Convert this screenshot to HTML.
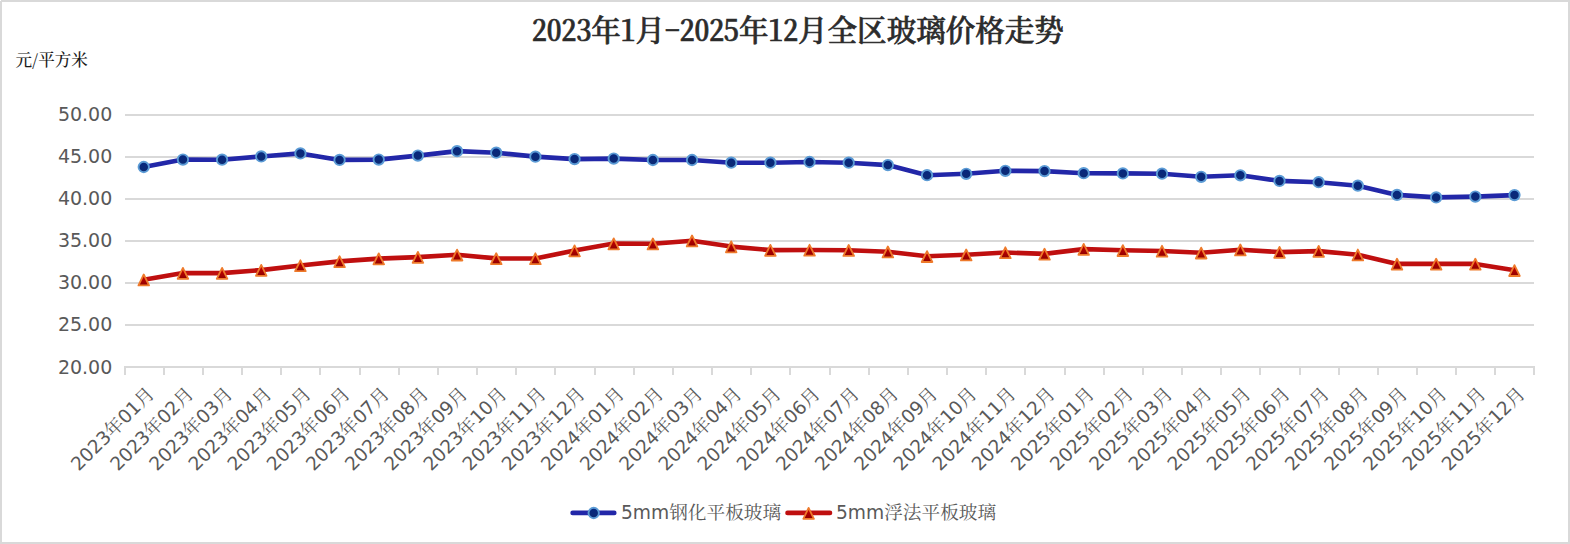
<!DOCTYPE html>
<html lang="zh-CN"><head><meta charset="utf-8"><title>2023年1月-2025年12月全区玻璃价格走势</title>
<style>
html,body{margin:0;padding:0;background:#fff;}
body{width:1570px;height:544px;overflow:hidden;position:relative;}
#chart{position:absolute;left:0;top:0;width:1570px;height:544px;box-sizing:border-box;border:2px solid #d9d9d9;background:#fff;}
svg{position:absolute;left:0;top:0;}
.num{font-family:"DejaVu Sans","Liberation Sans",sans-serif;fill:#595959;font-size:19px;}
.ttl{font-family:"Noto Serif CJK SC","Liberation Serif",serif;font-size:29.55px;font-weight:500;fill:#2b2b2b;stroke:#2b2b2b;stroke-width:0.7px;font-feature-settings:"hwid";}
.unit{font-family:"Noto Serif CJK SC","Liberation Serif",serif;font-size:16.6px;font-weight:500;fill:#1a1a1a;}
.xl{font-family:"DejaVu Sans","Noto Serif CJK SC","Liberation Sans",sans-serif;fill:#595959;font-size:18.67px;}
</style></head><body>
<div id="chart"></div>
<svg width="1570" height="544" viewBox="0 0 1570 544">
<defs>
<linearGradient id="gb" x1="0" y1="0" x2="0" y2="1"><stop offset="0" stop-color="#06277f"/><stop offset="1" stop-color="#0d2a72"/></linearGradient>
<linearGradient id="gr" x1="0" y1="0" x2="0" y2="1"><stop offset="0" stop-color="#d40000"/><stop offset="1" stop-color="#8e0000"/></linearGradient>
</defs>
<text x="798" y="41" text-anchor="middle" class="ttl">2023年1月-2025年12月全区玻璃价格走势</text>
<text x="15.5" y="66.2" class="unit">元/平方米</text>
<rect x="125" y="114" width="1409" height="2" fill="#d9d9d9"/>
<text x="112.3" y="121.2" text-anchor="end" class="num">50.00</text>
<rect x="125" y="156" width="1409" height="2" fill="#d9d9d9"/>
<text x="112.3" y="163.2" text-anchor="end" class="num">45.00</text>
<rect x="125" y="198" width="1409" height="2" fill="#d9d9d9"/>
<text x="112.3" y="205.2" text-anchor="end" class="num">40.00</text>
<rect x="125" y="240" width="1409" height="2" fill="#d9d9d9"/>
<text x="112.3" y="247.2" text-anchor="end" class="num">35.00</text>
<rect x="125" y="282" width="1409" height="2" fill="#d9d9d9"/>
<text x="112.3" y="289.2" text-anchor="end" class="num">30.00</text>
<rect x="125" y="324" width="1409" height="2" fill="#d9d9d9"/>
<text x="112.3" y="331.2" text-anchor="end" class="num">25.00</text>
<rect x="124" y="366" width="1411" height="2" fill="#d9d9d9"/>
<text x="112.3" y="373.9" text-anchor="end" class="num">20.00</text>
<rect x="124" y="366" width="2" height="9" fill="#d9d9d9"/>
<rect x="163" y="366" width="2" height="9" fill="#d9d9d9"/>
<rect x="202" y="366" width="2" height="9" fill="#d9d9d9"/>
<rect x="241" y="366" width="2" height="9" fill="#d9d9d9"/>
<rect x="280" y="366" width="2" height="9" fill="#d9d9d9"/>
<rect x="319" y="366" width="2" height="9" fill="#d9d9d9"/>
<rect x="359" y="366" width="2" height="9" fill="#d9d9d9"/>
<rect x="398" y="366" width="2" height="9" fill="#d9d9d9"/>
<rect x="437" y="366" width="2" height="9" fill="#d9d9d9"/>
<rect x="476" y="366" width="2" height="9" fill="#d9d9d9"/>
<rect x="515" y="366" width="2" height="9" fill="#d9d9d9"/>
<rect x="554" y="366" width="2" height="9" fill="#d9d9d9"/>
<rect x="594" y="366" width="2" height="9" fill="#d9d9d9"/>
<rect x="633" y="366" width="2" height="9" fill="#d9d9d9"/>
<rect x="672" y="366" width="2" height="9" fill="#d9d9d9"/>
<rect x="711" y="366" width="2" height="9" fill="#d9d9d9"/>
<rect x="750" y="366" width="2" height="9" fill="#d9d9d9"/>
<rect x="789" y="366" width="2" height="9" fill="#d9d9d9"/>
<rect x="829" y="366" width="2" height="9" fill="#d9d9d9"/>
<rect x="868" y="366" width="2" height="9" fill="#d9d9d9"/>
<rect x="907" y="366" width="2" height="9" fill="#d9d9d9"/>
<rect x="946" y="366" width="2" height="9" fill="#d9d9d9"/>
<rect x="985" y="366" width="2" height="9" fill="#d9d9d9"/>
<rect x="1024" y="366" width="2" height="9" fill="#d9d9d9"/>
<rect x="1064" y="366" width="2" height="9" fill="#d9d9d9"/>
<rect x="1103" y="366" width="2" height="9" fill="#d9d9d9"/>
<rect x="1142" y="366" width="2" height="9" fill="#d9d9d9"/>
<rect x="1181" y="366" width="2" height="9" fill="#d9d9d9"/>
<rect x="1220" y="366" width="2" height="9" fill="#d9d9d9"/>
<rect x="1259" y="366" width="2" height="9" fill="#d9d9d9"/>
<rect x="1299" y="366" width="2" height="9" fill="#d9d9d9"/>
<rect x="1338" y="366" width="2" height="9" fill="#d9d9d9"/>
<rect x="1377" y="366" width="2" height="9" fill="#d9d9d9"/>
<rect x="1416" y="366" width="2" height="9" fill="#d9d9d9"/>
<rect x="1455" y="366" width="2" height="9" fill="#d9d9d9"/>
<rect x="1494" y="366" width="2" height="9" fill="#d9d9d9"/>
<rect x="1533" y="366" width="2" height="9" fill="#d9d9d9"/>
<text class="xl" text-anchor="end" transform="translate(155.45,395.1) rotate(-45)">2023年01月</text>
<text class="xl" text-anchor="end" transform="translate(194.62,395.1) rotate(-45)">2023年02月</text>
<text class="xl" text-anchor="end" transform="translate(233.78,395.1) rotate(-45)">2023年03月</text>
<text class="xl" text-anchor="end" transform="translate(272.94,395.1) rotate(-45)">2023年04月</text>
<text class="xl" text-anchor="end" transform="translate(312.11,395.1) rotate(-45)">2023年05月</text>
<text class="xl" text-anchor="end" transform="translate(351.27,395.1) rotate(-45)">2023年06月</text>
<text class="xl" text-anchor="end" transform="translate(390.44,395.1) rotate(-45)">2023年07月</text>
<text class="xl" text-anchor="end" transform="translate(429.60,395.1) rotate(-45)">2023年08月</text>
<text class="xl" text-anchor="end" transform="translate(468.76,395.1) rotate(-45)">2023年09月</text>
<text class="xl" text-anchor="end" transform="translate(507.93,395.1) rotate(-45)">2023年10月</text>
<text class="xl" text-anchor="end" transform="translate(547.09,395.1) rotate(-45)">2023年11月</text>
<text class="xl" text-anchor="end" transform="translate(586.26,395.1) rotate(-45)">2023年12月</text>
<text class="xl" text-anchor="end" transform="translate(625.42,395.1) rotate(-45)">2024年01月</text>
<text class="xl" text-anchor="end" transform="translate(664.58,395.1) rotate(-45)">2024年02月</text>
<text class="xl" text-anchor="end" transform="translate(703.75,395.1) rotate(-45)">2024年03月</text>
<text class="xl" text-anchor="end" transform="translate(742.91,395.1) rotate(-45)">2024年04月</text>
<text class="xl" text-anchor="end" transform="translate(782.08,395.1) rotate(-45)">2024年05月</text>
<text class="xl" text-anchor="end" transform="translate(821.24,395.1) rotate(-45)">2024年06月</text>
<text class="xl" text-anchor="end" transform="translate(860.40,395.1) rotate(-45)">2024年07月</text>
<text class="xl" text-anchor="end" transform="translate(899.57,395.1) rotate(-45)">2024年08月</text>
<text class="xl" text-anchor="end" transform="translate(938.73,395.1) rotate(-45)">2024年09月</text>
<text class="xl" text-anchor="end" transform="translate(977.90,395.1) rotate(-45)">2024年10月</text>
<text class="xl" text-anchor="end" transform="translate(1017.06,395.1) rotate(-45)">2024年11月</text>
<text class="xl" text-anchor="end" transform="translate(1056.22,395.1) rotate(-45)">2024年12月</text>
<text class="xl" text-anchor="end" transform="translate(1095.39,395.1) rotate(-45)">2025年01月</text>
<text class="xl" text-anchor="end" transform="translate(1134.55,395.1) rotate(-45)">2025年02月</text>
<text class="xl" text-anchor="end" transform="translate(1173.72,395.1) rotate(-45)">2025年03月</text>
<text class="xl" text-anchor="end" transform="translate(1212.88,395.1) rotate(-45)">2025年04月</text>
<text class="xl" text-anchor="end" transform="translate(1252.04,395.1) rotate(-45)">2025年05月</text>
<text class="xl" text-anchor="end" transform="translate(1291.21,395.1) rotate(-45)">2025年06月</text>
<text class="xl" text-anchor="end" transform="translate(1330.37,395.1) rotate(-45)">2025年07月</text>
<text class="xl" text-anchor="end" transform="translate(1369.54,395.1) rotate(-45)">2025年08月</text>
<text class="xl" text-anchor="end" transform="translate(1408.70,395.1) rotate(-45)">2025年09月</text>
<text class="xl" text-anchor="end" transform="translate(1447.86,395.1) rotate(-45)">2025年10月</text>
<text class="xl" text-anchor="end" transform="translate(1487.03,395.1) rotate(-45)">2025年11月</text>
<text class="xl" text-anchor="end" transform="translate(1526.19,395.1) rotate(-45)">2025年12月</text>
<polyline points="143.75,167.00 182.92,159.60 222.08,159.70 261.24,156.45 300.41,153.40 339.57,159.90 378.74,159.60 417.90,155.60 457.06,151.15 496.23,152.70 535.39,156.65 574.56,159.10 613.72,158.60 652.88,160.00 692.05,160.00 731.21,162.70 770.38,162.70 809.54,162.00 848.70,162.70 887.87,165.10 927.03,175.20 966.20,173.80 1005.36,170.80 1044.52,171.10 1083.69,173.20 1122.85,173.40 1162.02,173.70 1201.18,176.80 1240.34,175.30 1279.51,180.90 1318.67,182.20 1357.84,185.70 1397.00,194.90 1436.16,197.40 1475.33,196.60 1514.49,195.10" fill="none" stroke="#2227a8" stroke-width="4.6" stroke-linejoin="round" stroke-linecap="round"/>
<circle cx="143.75" cy="167.00" r="5.2" fill="url(#gb)" stroke="#5b9bd5" stroke-width="1.9"/>
<circle cx="182.92" cy="159.60" r="5.2" fill="url(#gb)" stroke="#5b9bd5" stroke-width="1.9"/>
<circle cx="222.08" cy="159.70" r="5.2" fill="url(#gb)" stroke="#5b9bd5" stroke-width="1.9"/>
<circle cx="261.24" cy="156.45" r="5.2" fill="url(#gb)" stroke="#5b9bd5" stroke-width="1.9"/>
<circle cx="300.41" cy="153.40" r="5.2" fill="url(#gb)" stroke="#5b9bd5" stroke-width="1.9"/>
<circle cx="339.57" cy="159.90" r="5.2" fill="url(#gb)" stroke="#5b9bd5" stroke-width="1.9"/>
<circle cx="378.74" cy="159.60" r="5.2" fill="url(#gb)" stroke="#5b9bd5" stroke-width="1.9"/>
<circle cx="417.90" cy="155.60" r="5.2" fill="url(#gb)" stroke="#5b9bd5" stroke-width="1.9"/>
<circle cx="457.06" cy="151.15" r="5.2" fill="url(#gb)" stroke="#5b9bd5" stroke-width="1.9"/>
<circle cx="496.23" cy="152.70" r="5.2" fill="url(#gb)" stroke="#5b9bd5" stroke-width="1.9"/>
<circle cx="535.39" cy="156.65" r="5.2" fill="url(#gb)" stroke="#5b9bd5" stroke-width="1.9"/>
<circle cx="574.56" cy="159.10" r="5.2" fill="url(#gb)" stroke="#5b9bd5" stroke-width="1.9"/>
<circle cx="613.72" cy="158.60" r="5.2" fill="url(#gb)" stroke="#5b9bd5" stroke-width="1.9"/>
<circle cx="652.88" cy="160.00" r="5.2" fill="url(#gb)" stroke="#5b9bd5" stroke-width="1.9"/>
<circle cx="692.05" cy="160.00" r="5.2" fill="url(#gb)" stroke="#5b9bd5" stroke-width="1.9"/>
<circle cx="731.21" cy="162.70" r="5.2" fill="url(#gb)" stroke="#5b9bd5" stroke-width="1.9"/>
<circle cx="770.38" cy="162.70" r="5.2" fill="url(#gb)" stroke="#5b9bd5" stroke-width="1.9"/>
<circle cx="809.54" cy="162.00" r="5.2" fill="url(#gb)" stroke="#5b9bd5" stroke-width="1.9"/>
<circle cx="848.70" cy="162.70" r="5.2" fill="url(#gb)" stroke="#5b9bd5" stroke-width="1.9"/>
<circle cx="887.87" cy="165.10" r="5.2" fill="url(#gb)" stroke="#5b9bd5" stroke-width="1.9"/>
<circle cx="927.03" cy="175.20" r="5.2" fill="url(#gb)" stroke="#5b9bd5" stroke-width="1.9"/>
<circle cx="966.20" cy="173.80" r="5.2" fill="url(#gb)" stroke="#5b9bd5" stroke-width="1.9"/>
<circle cx="1005.36" cy="170.80" r="5.2" fill="url(#gb)" stroke="#5b9bd5" stroke-width="1.9"/>
<circle cx="1044.52" cy="171.10" r="5.2" fill="url(#gb)" stroke="#5b9bd5" stroke-width="1.9"/>
<circle cx="1083.69" cy="173.20" r="5.2" fill="url(#gb)" stroke="#5b9bd5" stroke-width="1.9"/>
<circle cx="1122.85" cy="173.40" r="5.2" fill="url(#gb)" stroke="#5b9bd5" stroke-width="1.9"/>
<circle cx="1162.02" cy="173.70" r="5.2" fill="url(#gb)" stroke="#5b9bd5" stroke-width="1.9"/>
<circle cx="1201.18" cy="176.80" r="5.2" fill="url(#gb)" stroke="#5b9bd5" stroke-width="1.9"/>
<circle cx="1240.34" cy="175.30" r="5.2" fill="url(#gb)" stroke="#5b9bd5" stroke-width="1.9"/>
<circle cx="1279.51" cy="180.90" r="5.2" fill="url(#gb)" stroke="#5b9bd5" stroke-width="1.9"/>
<circle cx="1318.67" cy="182.20" r="5.2" fill="url(#gb)" stroke="#5b9bd5" stroke-width="1.9"/>
<circle cx="1357.84" cy="185.70" r="5.2" fill="url(#gb)" stroke="#5b9bd5" stroke-width="1.9"/>
<circle cx="1397.00" cy="194.90" r="5.2" fill="url(#gb)" stroke="#5b9bd5" stroke-width="1.9"/>
<circle cx="1436.16" cy="197.40" r="5.2" fill="url(#gb)" stroke="#5b9bd5" stroke-width="1.9"/>
<circle cx="1475.33" cy="196.60" r="5.2" fill="url(#gb)" stroke="#5b9bd5" stroke-width="1.9"/>
<circle cx="1514.49" cy="195.10" r="5.2" fill="url(#gb)" stroke="#5b9bd5" stroke-width="1.9"/>
<polyline points="143.75,279.70 182.92,273.10 222.08,273.10 261.24,270.10 300.41,265.50 339.57,261.40 378.74,258.60 417.90,257.10 457.06,254.80 496.23,258.40 535.39,258.50 574.56,250.60 613.72,243.60 652.88,243.70 692.05,240.70 731.21,246.60 770.38,250.10 809.54,250.00 848.70,250.20 887.87,251.70 927.03,256.30 966.20,254.70 1005.36,252.50 1044.52,253.90 1083.69,249.10 1122.85,250.30 1162.02,251.00 1201.18,252.80 1240.34,249.70 1279.51,252.10 1318.67,251.10 1357.84,254.75 1397.00,263.90 1436.16,263.90 1475.33,263.90 1514.49,270.30" fill="none" stroke="#bf0f0f" stroke-width="4.6" stroke-linejoin="round" stroke-linecap="round"/>
<path d="M143.75,274.50 L149.05,285.40 L138.45,285.40 Z" fill="url(#gr)" stroke="#ee7a2b" stroke-width="1.8" stroke-linejoin="round"/>
<path d="M182.92,267.90 L188.22,278.80 L177.62,278.80 Z" fill="url(#gr)" stroke="#ee7a2b" stroke-width="1.8" stroke-linejoin="round"/>
<path d="M222.08,267.90 L227.38,278.80 L216.78,278.80 Z" fill="url(#gr)" stroke="#ee7a2b" stroke-width="1.8" stroke-linejoin="round"/>
<path d="M261.24,264.90 L266.54,275.80 L255.94,275.80 Z" fill="url(#gr)" stroke="#ee7a2b" stroke-width="1.8" stroke-linejoin="round"/>
<path d="M300.41,260.30 L305.71,271.20 L295.11,271.20 Z" fill="url(#gr)" stroke="#ee7a2b" stroke-width="1.8" stroke-linejoin="round"/>
<path d="M339.57,256.20 L344.87,267.10 L334.27,267.10 Z" fill="url(#gr)" stroke="#ee7a2b" stroke-width="1.8" stroke-linejoin="round"/>
<path d="M378.74,253.40 L384.04,264.30 L373.44,264.30 Z" fill="url(#gr)" stroke="#ee7a2b" stroke-width="1.8" stroke-linejoin="round"/>
<path d="M417.90,251.90 L423.20,262.80 L412.60,262.80 Z" fill="url(#gr)" stroke="#ee7a2b" stroke-width="1.8" stroke-linejoin="round"/>
<path d="M457.06,249.60 L462.36,260.50 L451.76,260.50 Z" fill="url(#gr)" stroke="#ee7a2b" stroke-width="1.8" stroke-linejoin="round"/>
<path d="M496.23,253.20 L501.53,264.10 L490.93,264.10 Z" fill="url(#gr)" stroke="#ee7a2b" stroke-width="1.8" stroke-linejoin="round"/>
<path d="M535.39,253.30 L540.69,264.20 L530.09,264.20 Z" fill="url(#gr)" stroke="#ee7a2b" stroke-width="1.8" stroke-linejoin="round"/>
<path d="M574.56,245.40 L579.86,256.30 L569.26,256.30 Z" fill="url(#gr)" stroke="#ee7a2b" stroke-width="1.8" stroke-linejoin="round"/>
<path d="M613.72,238.40 L619.02,249.30 L608.42,249.30 Z" fill="url(#gr)" stroke="#ee7a2b" stroke-width="1.8" stroke-linejoin="round"/>
<path d="M652.88,238.50 L658.18,249.40 L647.58,249.40 Z" fill="url(#gr)" stroke="#ee7a2b" stroke-width="1.8" stroke-linejoin="round"/>
<path d="M692.05,235.50 L697.35,246.40 L686.75,246.40 Z" fill="url(#gr)" stroke="#ee7a2b" stroke-width="1.8" stroke-linejoin="round"/>
<path d="M731.21,241.40 L736.51,252.30 L725.91,252.30 Z" fill="url(#gr)" stroke="#ee7a2b" stroke-width="1.8" stroke-linejoin="round"/>
<path d="M770.38,244.90 L775.68,255.80 L765.08,255.80 Z" fill="url(#gr)" stroke="#ee7a2b" stroke-width="1.8" stroke-linejoin="round"/>
<path d="M809.54,244.80 L814.84,255.70 L804.24,255.70 Z" fill="url(#gr)" stroke="#ee7a2b" stroke-width="1.8" stroke-linejoin="round"/>
<path d="M848.70,245.00 L854.00,255.90 L843.40,255.90 Z" fill="url(#gr)" stroke="#ee7a2b" stroke-width="1.8" stroke-linejoin="round"/>
<path d="M887.87,246.50 L893.17,257.40 L882.57,257.40 Z" fill="url(#gr)" stroke="#ee7a2b" stroke-width="1.8" stroke-linejoin="round"/>
<path d="M927.03,251.10 L932.33,262.00 L921.73,262.00 Z" fill="url(#gr)" stroke="#ee7a2b" stroke-width="1.8" stroke-linejoin="round"/>
<path d="M966.20,249.50 L971.50,260.40 L960.90,260.40 Z" fill="url(#gr)" stroke="#ee7a2b" stroke-width="1.8" stroke-linejoin="round"/>
<path d="M1005.36,247.30 L1010.66,258.20 L1000.06,258.20 Z" fill="url(#gr)" stroke="#ee7a2b" stroke-width="1.8" stroke-linejoin="round"/>
<path d="M1044.52,248.70 L1049.82,259.60 L1039.22,259.60 Z" fill="url(#gr)" stroke="#ee7a2b" stroke-width="1.8" stroke-linejoin="round"/>
<path d="M1083.69,243.90 L1088.99,254.80 L1078.39,254.80 Z" fill="url(#gr)" stroke="#ee7a2b" stroke-width="1.8" stroke-linejoin="round"/>
<path d="M1122.85,245.10 L1128.15,256.00 L1117.55,256.00 Z" fill="url(#gr)" stroke="#ee7a2b" stroke-width="1.8" stroke-linejoin="round"/>
<path d="M1162.02,245.80 L1167.32,256.70 L1156.72,256.70 Z" fill="url(#gr)" stroke="#ee7a2b" stroke-width="1.8" stroke-linejoin="round"/>
<path d="M1201.18,247.60 L1206.48,258.50 L1195.88,258.50 Z" fill="url(#gr)" stroke="#ee7a2b" stroke-width="1.8" stroke-linejoin="round"/>
<path d="M1240.34,244.50 L1245.64,255.40 L1235.04,255.40 Z" fill="url(#gr)" stroke="#ee7a2b" stroke-width="1.8" stroke-linejoin="round"/>
<path d="M1279.51,246.90 L1284.81,257.80 L1274.21,257.80 Z" fill="url(#gr)" stroke="#ee7a2b" stroke-width="1.8" stroke-linejoin="round"/>
<path d="M1318.67,245.90 L1323.97,256.80 L1313.37,256.80 Z" fill="url(#gr)" stroke="#ee7a2b" stroke-width="1.8" stroke-linejoin="round"/>
<path d="M1357.84,249.55 L1363.14,260.45 L1352.54,260.45 Z" fill="url(#gr)" stroke="#ee7a2b" stroke-width="1.8" stroke-linejoin="round"/>
<path d="M1397.00,258.70 L1402.30,269.60 L1391.70,269.60 Z" fill="url(#gr)" stroke="#ee7a2b" stroke-width="1.8" stroke-linejoin="round"/>
<path d="M1436.16,258.70 L1441.46,269.60 L1430.86,269.60 Z" fill="url(#gr)" stroke="#ee7a2b" stroke-width="1.8" stroke-linejoin="round"/>
<path d="M1475.33,258.70 L1480.63,269.60 L1470.03,269.60 Z" fill="url(#gr)" stroke="#ee7a2b" stroke-width="1.8" stroke-linejoin="round"/>
<path d="M1514.49,265.10 L1519.79,276.00 L1509.19,276.00 Z" fill="url(#gr)" stroke="#ee7a2b" stroke-width="1.8" stroke-linejoin="round"/>
<line x1="572.6" x2="614.3" y1="512.9" y2="512.9" stroke="#2227a8" stroke-width="4.6" stroke-linecap="round"/>
<circle cx="593.70" cy="513.00" r="5.2" fill="url(#gb)" stroke="#5b9bd5" stroke-width="1.9"/>
<text x="621" y="519.3" class="xl">5mm钢化平板玻璃</text>
<line x1="787.5" x2="830" y1="512.9" y2="512.9" stroke="#bf0f0f" stroke-width="4.6" stroke-linecap="round"/>
<path d="M808.60,507.90 L813.90,518.80 L803.30,518.80 Z" fill="url(#gr)" stroke="#ee7a2b" stroke-width="1.8" stroke-linejoin="round"/>
<text x="836" y="519.3" class="xl">5mm浮法平板玻璃</text>
<rect x="0" y="0" width="1" height="1" fill="#fff"/>
</svg></body></html>
